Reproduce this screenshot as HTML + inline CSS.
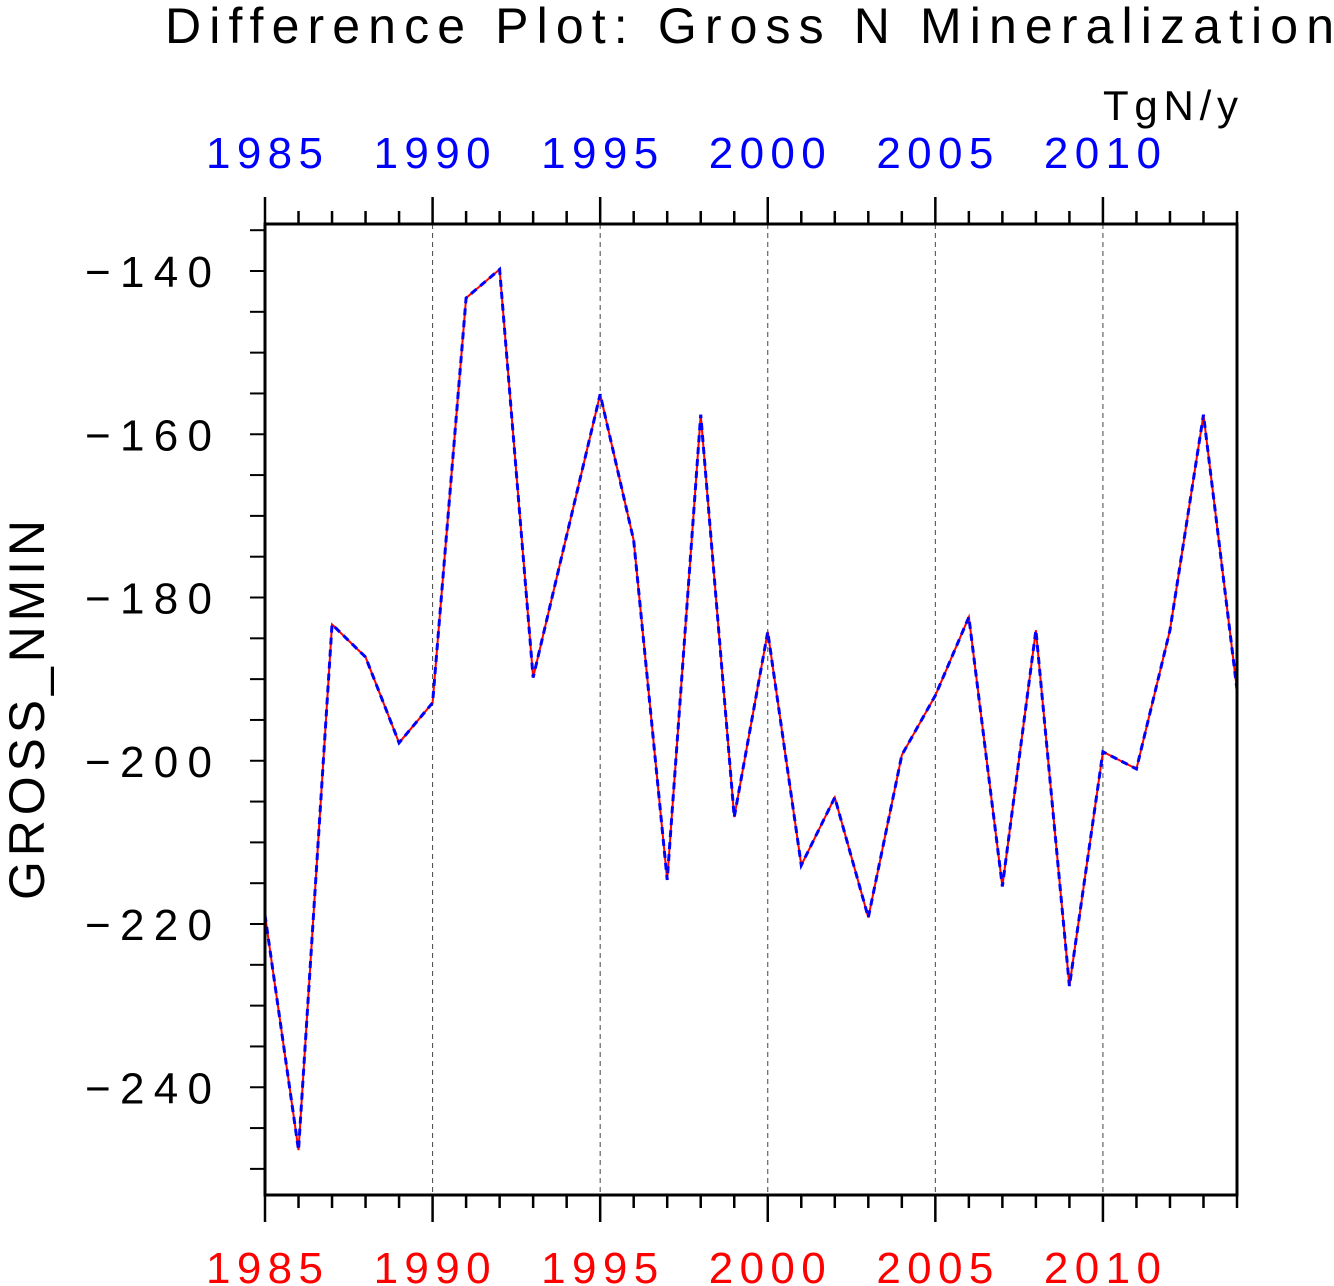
<!DOCTYPE html>
<html><head><meta charset="utf-8"><style>
html,body{margin:0;padding:0;background:#fff;}
svg{display:block;font-family:"Liberation Sans","DejaVu Sans",sans-serif;}
</style></head><body>
<svg id="chart" width="1334" height="1286" viewBox="0 0 1334 1286" xmlns="http://www.w3.org/2000/svg">
<text x="165" y="43" font-size="50" textLength="1169" lengthAdjust="spacing">Difference Plot: Gross N Mineralization</text>
<text x="1103" y="120" font-size="42" textLength="135" lengthAdjust="spacing">TgN/y</text>
<text transform="translate(44,900) rotate(-90)" font-size="50" textLength="380" lengthAdjust="spacing">GROSS_NMIN</text>
<g id="grid"></g><g id="axes"></g><g id="series"></g>
<rect x="265" y="224" width="972" height="971" fill="none" stroke="#000" stroke-width="3"/>
</svg>
<script>
const years=[1985,1986,1987,1988,1989,1990,1991,1992,1993,1994,1995,1996,1997,1998,1999,2000,2001,2002,2003,2004,2005,2006,2007,2008,2009,2010,2011,2012,2013,2014];
const values=[-218.9,-247.7,-183.3,-187.3,-197.8,-192.9,-143.3,-139.8,-189.8,-172.4,-155.1,-173,-214.6,-157.6,-206.9,-184.2,-212.8,-204.5,-219.2,-199.3,-192,-182.4,-215.4,-184,-227.6,-198.9,-201,-184,-157.6,-191.3];
const xTickLabels=[1985,1990,1995,2000,2005,2010];
const yTickLabels=[-140,-160,-180,-200,-220,-240];
const NS="http://www.w3.org/2000/svg";
const X0=265,X1=1237,Y0=224,Y1=1195,XMIN=1985,XMAX=2014,YMIN=-253.2,YMAX=-134.24;
function xs(v){return X0+(v-XMIN)/(XMAX-XMIN)*(X1-X0);}
function ys(v){return Y1-(v-YMIN)/(YMAX-YMIN)*(Y1-Y0);}
function mk(t,a,p){const e=document.createElementNS(NS,t);for(const k in a)e.setAttribute(k,a[k]);p.appendChild(e);return e;}
const grid=document.getElementById('grid'),axes=document.getElementById('axes'),series=document.getElementById('series');
xTickLabels.forEach(y=>{
  if(y>XMIN){const g=mk('line',{x1:xs(y),x2:xs(y),y1:Y0,y2:Y1,stroke:'#444','stroke-width':1,'stroke-dasharray':'5,4'},grid);
  
  }
  const tb=mk('text',{x:xs(y)-59,y:1283,'font-size':44,fill:'#ff0000',textLength:117,lengthAdjust:'spacing'},axes);tb.textContent=y;
  
  
  const tt=mk('text',{x:xs(y)-59,y:168,'font-size':44,fill:'#0000ff',textLength:117,lengthAdjust:'spacing'},axes);tt.textContent=y;
  
  
});
for(let y=XMIN;y<=XMAX;y++){
  const major=(y%5===0);
  mk('line',{x1:xs(y),x2:xs(y),y1:Y0,y2:Y0-(major?27:13),stroke:'#000','stroke-width':2.5},axes);
  mk('line',{x1:xs(y),x2:xs(y),y1:Y1,y2:Y1+(major?27:13),stroke:'#000','stroke-width':2.5},axes);
}
for(let v=-135;v>=-250;v-=5){
  mk('line',{x1:X0,x2:X0-15,y1:ys(v),y2:ys(v),stroke:'#000','stroke-width':2},axes);
}
yTickLabels.forEach(v=>{
  const t=mk('text',{x:85,y:ys(v)+16,'font-size':44,textLength:127,lengthAdjust:'spacing'},axes);
  t.textContent='\u2212'+Math.abs(v);
  
  
});
const pts=years.map((y,i)=>xs(y)+','+ys(values[i])).join(' ');
const r=mk('polyline',{points:pts,fill:'none',stroke:'#ff0000','stroke-width':2},series);


const b=mk('polyline',{points:pts,fill:'none',stroke:'#0000ff','stroke-width':3,'stroke-dasharray':'7,5'},series);


</script>
</body></html>
